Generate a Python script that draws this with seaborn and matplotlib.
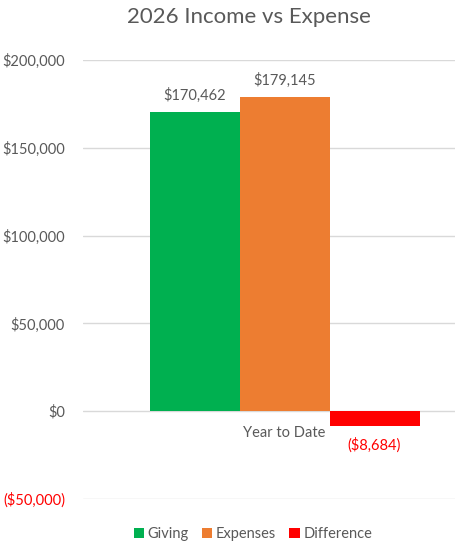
import pandas as pd
import matplotlib.pyplot as plt
import matplotlib.ticker as mticker
import seaborn as sns

# dati
categorie = ["Year to Date"]
serie = ["Giving", "Expenses", "Difference"]
valori = [170462, 179145, -8684]
colori = ["#00B050", "#ED7D31", "#FF0000"]

df = pd.DataFrame({"periodo": categorie * len(serie), "serie": serie, "valore": valori})

sns.set_theme(style="white")
plt.rcParams["font.family"] = ["Lato", "DejaVu Sans"]
grigio = "#595959"

fig = plt.figure(figsize=(4.55, 5.56), dpi=100)
ax = fig.add_axes([83 / 455, 1 - 499 / 556, 372 / 455, 439 / 556])

sns.barplot(data=df, x="periodo", y="valore", hue="serie", palette=colori,
            width=0.8, saturation=1, linewidth=0, ax=ax, legend=True)

ax.set_ylim(-50000, 200000)
ax.set_xlim(-0.597, 0.505)
ax.set_yticks(range(-50000, 200001, 50000))

def formato(v, pos=None):
    if v < 0:
        return "(${:,.0f})".format(-v)
    return "${:,.0f}".format(v)

ax.yaxis.set_major_formatter(mticker.FuncFormatter(formato))
ax.grid(axis="y", color="#D9D9D9", linewidth=1)
ax.set_axisbelow(True)
for s in ax.spines.values():
    s.set_visible(False)
ax.tick_params(axis="y", length=0, pad=13, labelsize=10.5, labelcolor=grigio)
for t in ax.get_yticklabels():
    if t.get_text().startswith("("):
        t.set_color("#FF0000")
# etichetta categoria vicino allo zero
ax.set_xlabel("")
ax.set_ylabel("")
ax.set_xticks([])
ax.text(0, -8500, categorie[0], ha="center", va="top", fontsize=10.5, color=grigio)

# etichette dei valori
for cont, v in zip(ax.containers, valori):
    for b in cont:
        x = b.get_x() + b.get_width() / 2
        if v >= 0:
            ax.text(x, v + 5000, formato(v), ha="center", va="bottom", fontsize=10.5, color=grigio)
        else:
            ax.text(x, v - 6000, formato(v), ha="center", va="top", fontsize=10.5, color="#FF0000")

ax.legend(loc="upper center", bbox_to_anchor=(170 / 372, -0.035), ncol=3, frameon=False,
          fontsize=10.5, handlelength=0.7, handleheight=0.7, handletextpad=0.25,
          columnspacing=0.9, labelcolor=grigio)

fig.suptitle("2026 Income vs Expense", x=249 / 455, y=1 - 7 / 556, va="top",
             fontsize=16, color=grigio)

fig.savefig("out.png", dpi=100)
plt.close()
